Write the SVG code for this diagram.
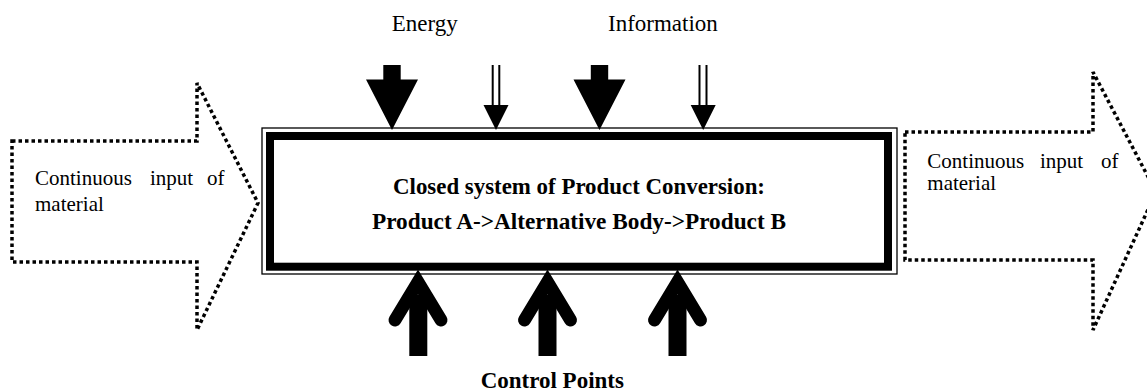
<svg xmlns="http://www.w3.org/2000/svg" width="1147" height="392" viewBox="0 0 1147 392">
<style>
  .dot { fill: #fff; stroke: #000; stroke-width: 3.5; stroke-dasharray: 3.5 3; }
  .t { font-family: "Liberation Serif", "Times New Roman", serif; fill: #000; }
  .lbl { font-size: 21px; }
  .top { font-size: 23px; }
  .b { font-size: 23px; font-weight: bold; }
  .fill { fill: #000; stroke: none; }
  .dl { stroke: #000; stroke-width: 2; }
  .chev { fill: none; stroke: #000; stroke-width: 13; stroke-linecap: round; stroke-linejoin: miter; }
</style>
<rect width="1147" height="392" fill="#fff"/>

<g id="input-material">
  <path class="dot" d="M12,141 H197 V83 L258,203 L197,330 V262 H12 Z"/>
  <text class="t lbl" x="35" y="185">Continuous</text>
  <text class="t lbl" x="150" y="185">input</text>
  <text class="t lbl" x="207" y="185">of</text>
  <text class="t lbl" x="35" y="211">material</text>
</g>

<g id="output-material">
  <path class="dot" d="M905,132 H1093 V72 L1156,192 L1093,330 V260 H905 Z"/>
  <text class="t lbl" x="927.3" y="168">Continuous</text>
  <text class="t lbl" x="1040" y="168">input</text>
  <text class="t lbl" x="1101" y="168">of</text>
  <text class="t lbl" x="927.3" y="190">material</text>
</g>

<g id="system">
  <rect x="262" y="128" width="635" height="146" fill="#fff" stroke="#000" stroke-width="1.3"/>
  <rect x="270" y="136" width="618" height="130.7" fill="#fff" stroke="#000" stroke-width="8"/>
  <text class="t b" x="579" y="194" text-anchor="middle" textLength="372" lengthAdjust="spacingAndGlyphs">Closed system of Product Conversion:</text>
  <text class="t b" x="579" y="229" text-anchor="middle" textLength="414" lengthAdjust="spacingAndGlyphs">Product A-&gt;Alternative Body-&gt;Product B</text>
</g>

<g id="label-energy">
  <text class="t top" x="391.7" y="30.7">Energy</text>
</g>
<g id="label-information">
  <text class="t top" x="608" y="30.7">Information</text>
</g>
<g id="label-control">
  <text class="t b" x="552.3" y="388" text-anchor="middle">Control Points</text>
</g>

<g id="connectors">
  <path class="fill" d="M383.3,65 H400.7 V79.5 H418 L392,130 L366,79.5 H383.3 Z"/>
  <path class="fill" d="M590.8,65 H608.2 V79.5 H625.5 L599.5,130 L573.5,79.5 H590.8 Z"/>
  <line class="dl" x1="492.7" y1="65" x2="492.7" y2="106"/>
  <line class="dl" x1="499.3" y1="65" x2="499.3" y2="106"/>
  <path class="fill" d="M483.5,105 H508.5 L496,130 Z"/>
  <line class="dl" x1="699.5" y1="65" x2="699.5" y2="106"/>
  <line class="dl" x1="706.5" y1="65" x2="706.5" y2="106"/>
  <path class="fill" d="M690.7,105 H715.7 L703.2,130 Z"/>
  <rect class="fill" x="409.3" y="295" width="18" height="61"/>
  <polyline class="chev" points="395,320 418,282 441,320"/>
  <rect class="fill" x="538.5" y="295" width="18" height="61"/>
  <polyline class="chev" points="524.5,320 547.5,282 570.5,320"/>
  <rect class="fill" x="668.5" y="295" width="18" height="61"/>
  <polyline class="chev" points="654.5,320 677.5,282 700.5,320"/>
</g>
</svg>
